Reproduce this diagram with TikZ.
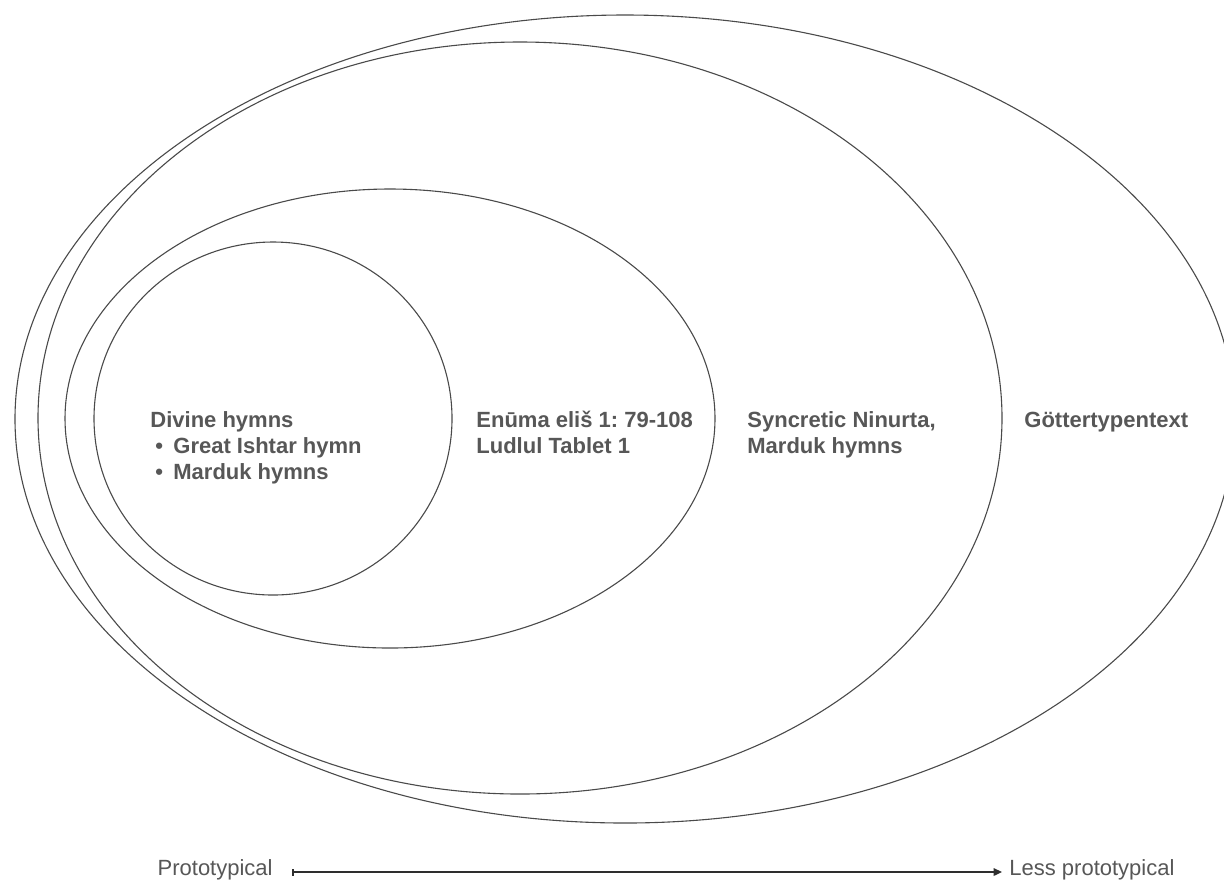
\documentclass[tikz,border=0pt]{standalone}
\usepackage{fontspec}
\setmainfont{Liberation Sans}
\usetikzlibrary{arrows.meta}
\definecolor{labelgray}{HTML}{575757}
\definecolor{ringgray}{HTML}{4A4A4A}
\definecolor{axisgray}{HTML}{2E2E2E}
\frenchspacing
\begin{document}
\begin{tikzpicture}[x=0.5pt,y=-0.5pt,
  ring/.style={draw=ringgray,line width=0.55pt},
  zonelabel/.style={anchor=base west,inner sep=0pt,text=labelgray,
    font=\fontsize{11}{13}\selectfont\bfseries},
  axislabel/.style={inner sep=0pt,text=labelgray,font=\fontsize{11}{13}\selectfont},
  axis/.style={draw=axisgray,line width=0.75pt,
    {Bar[width=3.5pt,line width=0.75pt]}-{Triangle[length=4.2pt,width=3.8pt]}}]
  % page frame
  \fill[white] (0,0) rectangle (1224,880);
  \clip (0,0) rectangle (1224,880);

  % nested categories, outermost first
  \draw[ring] (625,419) ellipse [x radius=305pt, y radius=202pt];
  \draw[ring] (520,418) ellipse [x radius=241pt, y radius=188pt];
  \draw[ring] (390,418.5) ellipse [x radius=162.5pt, y radius=114.75pt];
  \draw[ring] (273,418.5) ellipse [x radius=89.5pt, y radius=88.25pt];

  % category labels
  \node[zonelabel] (divine) at (150,427) {\begin{tabular}[t]{@{}l@{}}
    Divine hymns\\
    \makebox[11.5pt][l]{\hspace{2.5pt}•}Great Ishtar hymn\\
    \makebox[11.5pt][l]{\hspace{2.5pt}•}Marduk hymns
  \end{tabular}};
  \node[zonelabel] (enuma) at (476,427) {\begin{tabular}[t]{@{}l@{}}
    Enūma eliš 1: 79-108\\
    Ludlul Tablet 1
  \end{tabular}};
  \node[zonelabel] (syncretic) at (747,427) {\begin{tabular}[t]{@{}l@{}}
    Syncretic Ninurta,\\
    Marduk hymns
  \end{tabular}};
  \node[zonelabel] (gotter) at (1024,427) {Göttertypentext};

  % prototypicality axis
  \coordinate (axisfrom) at (292,872);
  \coordinate (axisto) at (1002,872);
  \node[axislabel,anchor=base east] (proto) at (273,875) {Prototypical};
  \node[axislabel,anchor=base west] (less) at (1009,875) {Less prototypical};
  \draw[axis] (axisfrom) -- (axisto);
\end{tikzpicture}
\end{document}
